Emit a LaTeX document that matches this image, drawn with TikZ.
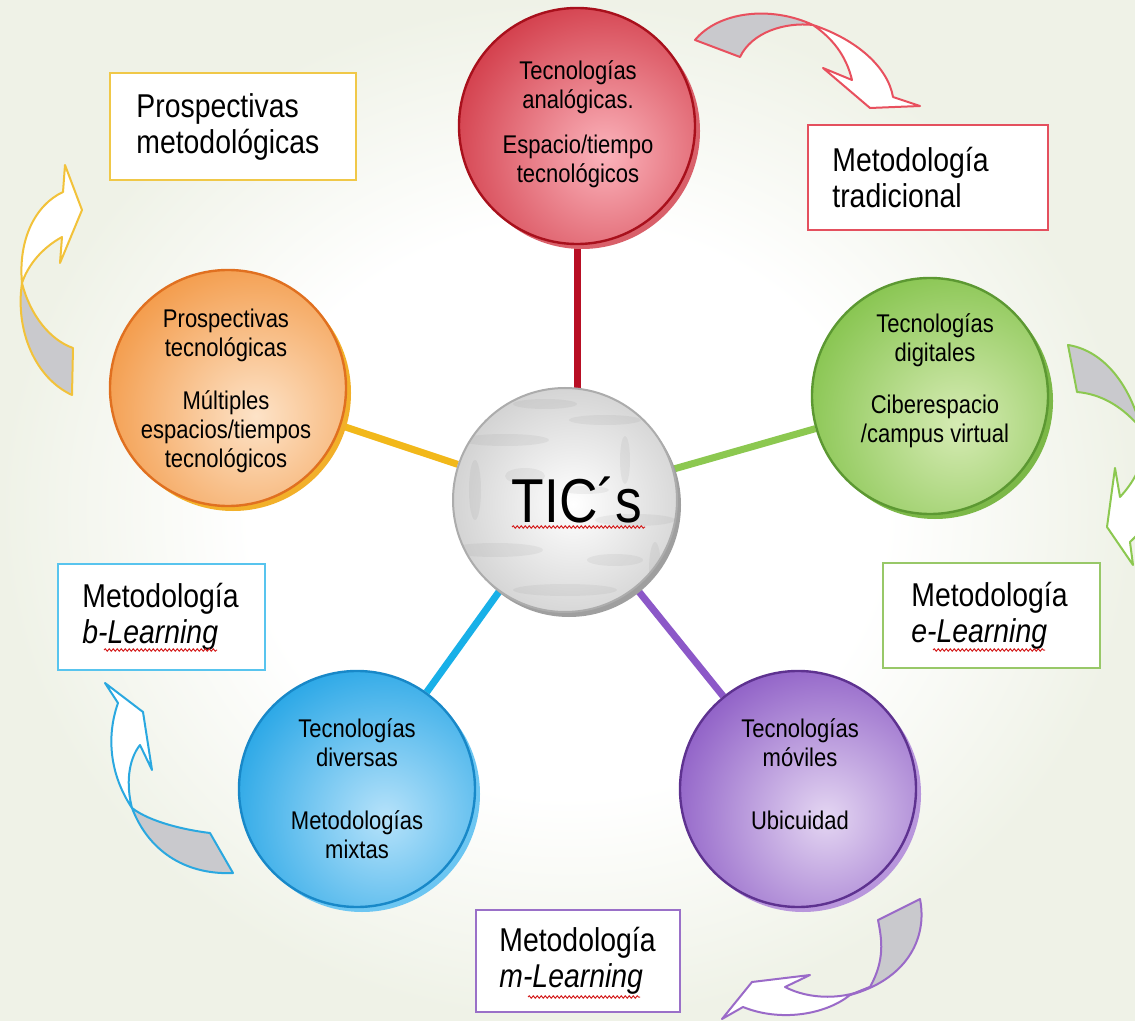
\documentclass[tikz,border=0pt]{standalone}
\usepackage{fontspec}
\setmainfont{Liberation Sans}[FakeStretch=0.86]
\usetikzlibrary{shadows,backgrounds,decorations.pathmorphing,calc}
\definecolor{bgc}{HTML}{EFF2E7}
\definecolor{rEdge}{HTML}{D23C49}\definecolor{rIn}{HTML}{FBB3BB}\definecolor{rLine}{HTML}{A8101C}\definecolor{rSh}{HTML}{D9606A}
\definecolor{oEdge}{HTML}{F39A48}\definecolor{oIn}{HTML}{FDE3C8}\definecolor{oLine}{HTML}{E07020}\definecolor{oSh}{HTML}{F2B02A}
\definecolor{gEdge}{HTML}{86C44E}\definecolor{gIn}{HTML}{D6EBB4}\definecolor{gLine}{HTML}{5C9832}\definecolor{gSh}{HTML}{7CB848}
\definecolor{bEdge}{HTML}{27A6E6}\definecolor{bIn}{HTML}{B6E2FA}\definecolor{bLine}{HTML}{1888C8}\definecolor{bSh}{HTML}{6CC6F2}
\definecolor{pEdge}{HTML}{8E5EC6}\definecolor{pIn}{HTML}{E4D6F2}\definecolor{pLine}{HTML}{5E3290}\definecolor{pSh}{HTML}{B896DC}
\definecolor{sR}{HTML}{B80E24}\definecolor{sO}{HTML}{F2B81A}\definecolor{sG}{HTML}{8CC850}\definecolor{sB}{HTML}{18B0E8}\definecolor{sP}{HTML}{8C58C8}
\definecolor{fY}{HTML}{F0C848}\definecolor{fR}{HTML}{E4505E}\definecolor{fG}{HTML}{98C868}\definecolor{fB}{HTML}{58C4EE}\definecolor{fP}{HTML}{9A70C8}
\definecolor{aR}{HTML}{E8505E}\definecolor{aY}{HTML}{F2C23A}\definecolor{aG}{HTML}{8CC850}\definecolor{aB}{HTML}{2AA8E0}\definecolor{aP}{HTML}{9A6AC8}
\definecolor{agray}{HTML}{C9C9CD}\definecolor{squigc}{HTML}{D42020}
\pgfdeclareradialshading{bgshade}{\pgfpoint{0bp}{0bp}}{color(0bp)=(white); color(14bp)=(white); color(25bp)=(bgc); color(50bp)=(bgc)}
\begin{document}
\begin{tikzpicture}[x=0.5pt,y=-0.5pt,
  ball/.style n args={4}{circle, minimum size=118pt, inner sep=0pt, draw=#1, line width=1.2pt,
    path picture={\shade[inner color=#2, outer color=#3] ([shift={(14pt,-14pt)}]path picture bounding box.center) circle (82pt);},
    drop shadow={shadow xshift=2.5pt, shadow yshift=-2.5pt, fill=#4, opacity=1}},
  ctr/.style={circle, minimum size=112pt, inner sep=0pt, draw=gray!65, line width=1pt,
    drop shadow={shadow xshift=2pt, shadow yshift=-2.5pt, fill=gray!75, opacity=1},
    path picture={\shade[inner color=white, outer color=gray!40] ([shift={(4pt,-2pt)}]path picture bounding box.center) circle (70pt);
      \foreach \dx/\dy/\ea/\eb in {-30/30/22/3, 20/40/18/2.5, 35/-10/20/3, -35/-25/24/3.5, 0/-45/26/3, -45/5/3/15, 30/20/2.5/12, 10/5/12/2, -10/48/16/2.5, 45/-35/3/14, -20/12/10/4, 25/-30/14/3}
        \fill[gray, opacity=0.10] ([shift={(\dx pt,\dy pt)}]path picture bounding box.center) ellipse (\ea pt and \eb pt);},
    font=\fontsize{31pt}{31pt}\selectfont},
  ctext/.style={align=center, inner sep=0pt, font=\fontsize{12.8pt}{14.5pt}\selectfont},
  mbox/.style={rectangle, draw=#1, line width=1pt, fill=white},
  btext/.style={align=left, inner sep=0pt, font=\fontsize{16.5pt}{18pt}\selectfont},
  spoke/.style={draw=#1, line width=3.5pt},
  arrw/.style={draw=#1, line width=1pt, line join=round, fill=white},
  arrg/.style={draw=#1, line width=1pt, line join=round, fill=agray},
  squig/.style={draw=squigc, line width=0.5pt, decorate, decoration={snake, amplitude=0.6pt, segment length=2pt}}]
\useasboundingbox (0,0) rectangle (1135,1021);

% circles
\node[ball={rLine}{rIn}{rEdge}{rSh}] (cR) at (577,126) {};
\node[ball={oLine}{oIn}{oEdge}{oSh}] (cO) at (228,388) {};
\node[ball={gLine}{gIn}{gEdge}{gSh}] (cG) at (930,396) {};
\node[ball={bLine}{bIn}{bEdge}{bSh}] (cB) at (357,789) {};
\node[ball={pLine}{pIn}{pEdge}{pSh}] (cP) at (798,789) {};
\node[ctr] (cT) at (565,500) {\hspace*{12pt}TIC´s};
\draw[squig] (512,527) -- (645,527);

% circle texts
\node[ctext] (tR) at (578,124) {Tecnologías\\analógicas.\\[8pt]Espacio/tiempo\\tecnológicos};
\node[ctext] (tO) at (226,391) {Prospectivas\\tecnológicas\\[12pt]Múltiples\\espacios/tiempos\\tecnológicos};
\node[ctext] (tG) at (935,381) {Tecnologías\\digitales\\[11.5pt]Ciberespacio\\/campus virtual};
\node[ctext] (tB) at (357,789) {Tecnologías\\diversas\\[17pt]Metodologías\\mixtas};
\node[ctext] (tP) at (800,774) {Tecnologías\\móviles\\[17pt]Ubicuidad};

% boxes
\node[mbox=fY, minimum width=123pt, minimum height=53.5pt] (bY) at (233,126.5) {};
\node[btext, anchor=west] (lY) at ($(bY.west)+(27,0)$) {Prospectivas\\metodológicas};
\node[mbox=fR, minimum width=120pt, minimum height=52.5pt] (bR) at (928,177.5) {};
\node[btext, anchor=west] (lR) at ($(bR.west)+(25,0)$) {Metodología\\tradicional};
\node[mbox=fG, minimum width=108.5pt, minimum height=52.5pt] (bG) at (991.5,615.5) {};
\node[btext, anchor=west] (lG) at ($(bG.west)+(29,0)$) {Metodología\\\textit{e-Learning}};
\node[mbox=fB, minimum width=103.5pt, minimum height=53pt] (bB) at (161.5,617) {};
\node[btext, anchor=west] (lB) at ($(bB.west)+(25,0)$) {Metodología\\\textit{b-Learning}};
\node[mbox=fP, minimum width=102pt, minimum height=51pt] (bP) at (578,961) {};
\node[btext, anchor=west] (lP) at ($(bP.west)+(24,0)$) {Metodología\\\textit{m-Learning}};
\draw[squig] (104,650) -- (217,650);
\draw[squig] (933,650) -- (1045,650);
\draw[squig] (528,997) -- (640,997);

% curved arrows
\draw[arrg=aR] (695,40) .. controls (718,12) and (770,5) .. (813,25) .. controls (785,22) and (752,32) .. (740,57) -- cycle;
\draw[arrw=aR] (813,25) .. controls (858,40) and (888,68) .. (893,97) -- (920,106) -- (870,108) -- (823,68) -- (852,80) .. controls (846,55) and (832,38) .. (813,25) -- cycle;

\draw[arrg=aY] (22,283) .. controls (15,330) and (35,378) .. (72,395) -- (73,348) .. controls (50,340) and (30,315) .. (22,283) -- cycle;
\draw[arrw=aY] (22,283) .. controls (18,240) and (35,205) .. (63,192) -- (65,165) -- (82,210) -- (60,263) -- (62,237) .. controls (42,248) and (28,265) .. (22,283) -- cycle;

\begin{scope}
\clip (0,0) rectangle (1135,1021);
\draw[arrg=aG] (1068,345) .. controls (1100,350) and (1125,378) .. (1138,418) -- (1138,425) .. controls (1120,405) and (1100,394) .. (1077,392) -- cycle;
\draw[arrw=aG] (1138,421) .. controls (1150,440) and (1145,470) .. (1120,497) -- (1115,468) -- (1107,527) -- (1133,565) -- (1130,542) .. controls (1165,510) and (1170,455) .. (1138,421) -- cycle;
\end{scope}

\draw[arrg=aB] (132,808) .. controls (150,822) and (185,830) .. (210,833) -- (233,873) .. controls (190,875) and (150,855) .. (132,808) -- cycle;
\draw[arrw=aB] (132,808) .. controls (110,775) and (106,737) .. (118,703) -- (105,683) -- (143,712) -- (152,770) -- (140,745) .. controls (128,760) and (126,785) .. (132,808) -- cycle;

\draw[arrg=aP] (878,920) -- (920,899) .. controls (928,940) and (905,980) .. (850,995) -- (870,987) .. controls (885,960) and (882,940) .. (878,920) -- cycle;
\draw[arrw=aP] (870,987) .. controls (845,1000) and (810,1000) .. (785,987) -- (810,975) -- (752,982) -- (722,1019) -- (743,1007) .. controls (780,1022) and (825,1015) .. (850,995) -- cycle;

% background and spokes
\begin{scope}[on background layer]
\shade[shading=bgshade] (0,0) rectangle (1135,1021);
\draw[spoke=sR] (cR) -- (cR |- cT);
\draw[spoke=sO] (cO) -- (cT);
\draw[spoke=sG] (cG) -- (cT);
\draw[spoke=sB] (cB) -- (cT);
\draw[spoke=sP] (cP) -- (cT);
\end{scope}
\end{tikzpicture}
\end{document}
